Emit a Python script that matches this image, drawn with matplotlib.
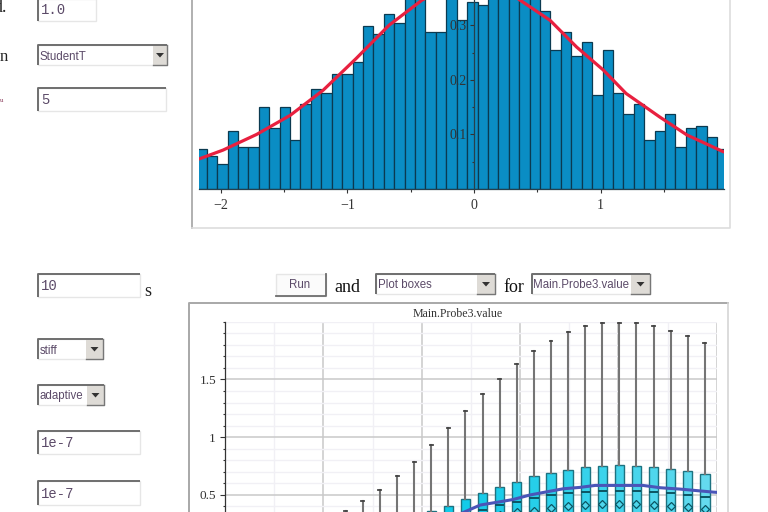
import numpy as np
import matplotlib
matplotlib.use("Agg")
import matplotlib.pyplot as plt
from matplotlib.patches import Rectangle, Polygon
from matplotlib.ticker import MultipleLocator, FixedLocator

W, H = 768, 512

# ---------- histogram data (tops above the crop are estimates)
hist_heights = [.073, .060, .046, .106, .077, .077, .150, .111, .150, .090,
                .155, .184, .176, .210, .210, .232, .298, .283, .321, .304,
                .352, .372, .288, .288, .375, .310, .343, .337, .372, .395,
                .385, .378, .362, .326, .254, .288, .244, .270, .172, .254,
                .176, .138, .155, .090, .106, .138, .077, .111, .116, .095, .073]
hist_start = -2.1915
hist_width = 0.0822
curve_x = [-2.17, -1.98, -1.715, -1.45, -1.19, -0.93, -0.67, -0.41, -0.2, 0.0, 0.2, 0.363, 0.6, 0.81, 1.02, 1.2, 1.465, 1.68, 1.97]
curve_y = [.055, .0713, .100, .135, .181, .239, .300, .346, .372, .382, .372, .346, .309, .260, .218, .175, .132, .099, .068]

# ---------- box plot data
box_first, box_step = 2.456, 0.3478
whisker_hi = [.36, .447, .542, .662, .787, .931, 1.08, 1.227, 1.377, 1.507, 1.637,
              1.746, 1.832, 1.907, 1.959, 1.985, 1.991, 1.985, 1.959, 1.919, 1.873, 1.818]
box_q3 = [.16, .20, .24, .28, .32, .36, .406, .461, .516, .568, .611,
          .660, .692, .715, .741, .747, .755, .747, .741, .723, .706, .683]
box_med = [.07, .09, .11, .14, .17, .20, .24, .30, .369, .412, .441,
           .470, .496, .516, .525, .533, .536, .533, .525, .516, .501, .484]
box_mean = [.06, .08, .10, .12, .15, .18, .22, .27, .31, .33, .352,
            .360, .386, .406, .412, .423, .423, .423, .412, .406, .395, .380]
box_q1 = [.02, .03, .04, .05, .07, .09, .11, .13, .16, .18, .20,
          .22, .24, .25, .26, .26, .27, .26, .26, .25, .24, .23]
whisker_lo = [0.0] * 22
mean_x = [3.5, 4.6, 4.88, 5.19, 5.6, 5.86, 6.2, 6.55, 6.88, 7.22, 7.53, 8.5, 8.85, 9.26, 9.93, 10.0]
mean_y = [.14, .30, .354, .412, .441, .46, .499, .527, .553, .565, .582, .582, .562, .55, .524, .522]

plt.rcParams['font.family'] = ['Liberation Serif', 'DejaVu Sans']
fig = plt.figure(figsize=(W / 100, H / 100), dpi=100, facecolor='white')

def axes_px(left, top, right, bottom, **kw):
    return fig.add_axes([left / W, 1 - bottom / H, (right - left) / W, (bottom - top) / H], **kw)

# ---------- widgets layer in pixel coordinates
bg = fig.add_axes([0, 0, 1, 1], zorder=0)
bg.set_xlim(0, W)
bg.set_ylim(H, 0)
bg.axis('off')

EDGE = '#6e6e6e'
LIGHT = '#e6e6e6'
TXT = '#5b4a68'

def sunken(x0, y0, x1, y1):
    bg.add_patch(Rectangle((x0, y0), x1 - x0, y1 - y0, fc='white', ec=LIGHT, lw=1))
    bg.plot([x0, x0, x1], [y1, y0, y0], color=EDGE, lw=1.4, solid_capstyle='butt')

def field(x0, y0, x1, y1, text):
    sunken(x0, y0, x1, y1)
    bg.text(x0 + 3, (y0 + y1) / 2 + .5, text, family='Liberation Mono', fontsize=10,
            color=TXT, va='center', ha='left')

def combo(x0, y0, x1, y1, bx, text):
    sunken(x0, y0, x1, y1)
    bg.add_patch(Rectangle((bx, y0 + 1), x1 - bx, y1 - y0 - 1, fc='#dedbd6', ec='none'))
    bg.plot([bx, x1, x1], [y1, y1, y0], color='#777777', lw=1)
    cx, cy = (bx + x1) / 2, (y0 + y1) / 2
    bg.add_patch(Polygon([[cx - 4, cy - 2], [cx + 4, cy - 2], [cx, cy + 2.5]], fc='#333333', ec='none'))
    bg.text(x0 + 1.5, cy + 1.5, text, family='Liberation Sans', fontsize=8.3, color=TXT, va='center', ha='left')

field(38, -1, 96, 21, '1.0')
combo(38, 45, 167, 65, 153, 'StudentT')
field(38, 88, 166, 111, '5')
field(38, 274, 140, 297, '10')
combo(38, 339, 103, 359, 86, 'stiff')
combo(38, 385, 104, 405, 87, 'adaptive')
field(38, 431, 140, 454, '1e-7')
field(38, 481, 140, 505, '1e-7')
combo(376, 274, 495, 294, 477, 'Plot boxes')
combo(532, 274, 650, 294, 631, 'Main.Probe3.value')

bg.add_patch(Rectangle((276, 274), 50, 22, fc='#fbfbfb', ec=LIGHT, lw=1))
bg.plot([276, 326, 326], [296, 296, 274], color=EDGE, lw=1.3)
bg.text(300, 285, 'Run', family='Liberation Sans', fontsize=8.3, color=TXT, ha='center', va='center')

for tx, ty, s, ha, fs, col in [(7, 8, 'd.', 'right', 13, '#222222'), (8.4, 57, 'n', 'right', 12, '#222222'),
                               (3.6, 100, 'u', 'right', 5, '#8a3a5a'), (148, 291, 's', 'center', 13, '#222222'),
                               (347, 288, 'and', 'center', 13, '#111111'), (513.5, 288, 'for', 'center', 13, '#111111')]:
    bg.text(tx, ty, s, ha=ha, va='center', fontsize=fs, color=col)

# plot frames
bg.plot([191.5, 191.5], [0, 228], color='#b0b0b0', lw=1.4)
bg.plot([191.5, 730, 730, ], [228, 228, 0], color='#dddddd', lw=1.2)
bg.plot([189, 189, 728], [H, 303, 303], color='#a8a8a8', lw=1.4)
bg.plot([728, 728], [303, H], color='#d5d5d5', lw=1.2)

# ---------- histogram
ax = axes_px(198.5, 0, 724, 189, zorder=2, facecolor='none')
hist_left = hist_start + hist_width * np.arange(len(hist_heights))
ax.bar(hist_left, hist_heights, width=hist_width, align='edge', color='#0a8dc4',
       edgecolor='#0b3a50', linewidth=0.9)
ax.plot(curve_x, curve_y, color='#e8203f', lw=2.3, solid_capstyle='round')
ax.set_xlim(-2.174, 1.973)
ax.set_ylim(0, 189 / 546)
for s in ('top', 'right'):
    ax.spines[s].set_visible(False)
ax.spines['left'].set_position(('data', 0))
for s in ('left', 'bottom'):
    ax.spines[s].set_color('#27404c')
    ax.spines[s].set_linewidth(0.9)
ax.xaxis.set_major_locator(FixedLocator([-2, -1, 0, 1]))
ax.xaxis.set_minor_locator(FixedLocator([-1.5, -0.5, 0.5, 1.5]))
ax.yaxis.set_major_locator(FixedLocator([.1, .2, .3]))
ax.yaxis.set_minor_locator(FixedLocator([.05, .15, .25]))
ax.set_xticklabels(['\u22122', '\u22121', '0', '1'])
ax.set_yticklabels(['0.1', '0.2', '0.3'])
ax.tick_params(axis='both', which='major', length=3, width=0.8, labelsize=10, color='#333333', labelcolor='#333333')
ax.tick_params(axis='both', which='minor', length=1.8, width=0.8, color='#333333')
ax.tick_params(axis='x', which='major', pad=4)
ax.tick_params(axis='y', which='major', pad=2)

# ---------- box plot
ax2 = axes_px(225, 321.7, 716.7, H, zorder=2, facecolor='none')
ax2.set_xlim(0, 10)
ax2.set_ylim((552.7 - H) / 115.7, 2.0)
times = box_first + box_step * np.arange(len(whisker_hi))
stats = [dict(whislo=a, q1=b, med=c, mean=d, q3=e, whishi=f, fliers=[])
         for a, b, c, d, e, f in zip(whisker_lo, box_q1, box_med, box_mean, box_q3, whisker_hi)]
bp = ax2.bxp(stats, positions=times, widths=0.19, patch_artist=True, showmeans=True, manage_ticks=False,
             boxprops=dict(edgecolor='#1d7280', linewidth=1.0),
             medianprops=dict(color='#0b5563', linewidth=1.4),
             whiskerprops=dict(color='#757575', linewidth=1.5),
             capprops=dict(color='#444444', linewidth=1.3), capwidths=0.06,
             meanprops=dict(marker='D', markerfacecolor='#4fd6ec', markeredgecolor='#0b5563',
                            markersize=4.5, markeredgewidth=0.9))
c0, c1 = np.array([0, 200, 232]) / 255, np.array([100, 218, 238]) / 255
for i, patch in enumerate(bp['boxes']):
    f = i / (len(bp['boxes']) - 1)
    patch.set_facecolor(c0 + (c1 - c0) * f ** 1.5)
ax2.plot(mean_x, mean_y, color='#4a55b8', lw=2.2, zorder=4)

ax2.xaxis.set_major_locator(MultipleLocator(2))
ax2.xaxis.set_minor_locator(MultipleLocator(1))
ax2.yaxis.set_major_locator(FixedLocator([0.5, 1, 1.5]))
ax2.yaxis.set_minor_locator(MultipleLocator(0.1))
ax2.set_yticklabels(['0.5', '1', '1.5'])
ax2.grid(True, which='major', color='#c9c9c9', lw=1.1)
ax2.grid(True, which='minor', color='#f1f0f5', lw=1.0)
ax2.set_axisbelow(True)
for s in ('top', 'right', 'bottom'):
    ax2.spines[s].set_visible(False)
ax2.spines['left'].set_color('#333333')
ax2.spines['left'].set_linewidth(0.9)
ax2.tick_params(axis='x', which='both', length=0, labelbottom=False)
ax2.tick_params(axis='y', which='major', length=3.5, width=0.8, labelsize=9.5, color='#333333', labelcolor='#333333', pad=3)
ax2.tick_params(axis='y', which='minor', length=1.8, width=0.8, color='#333333')

bg.text(458, 314, 'Main.Probe3.value', ha='center', va='center', fontsize=8.6, color='#333333')

fig.savefig('out.png', dpi=100)
